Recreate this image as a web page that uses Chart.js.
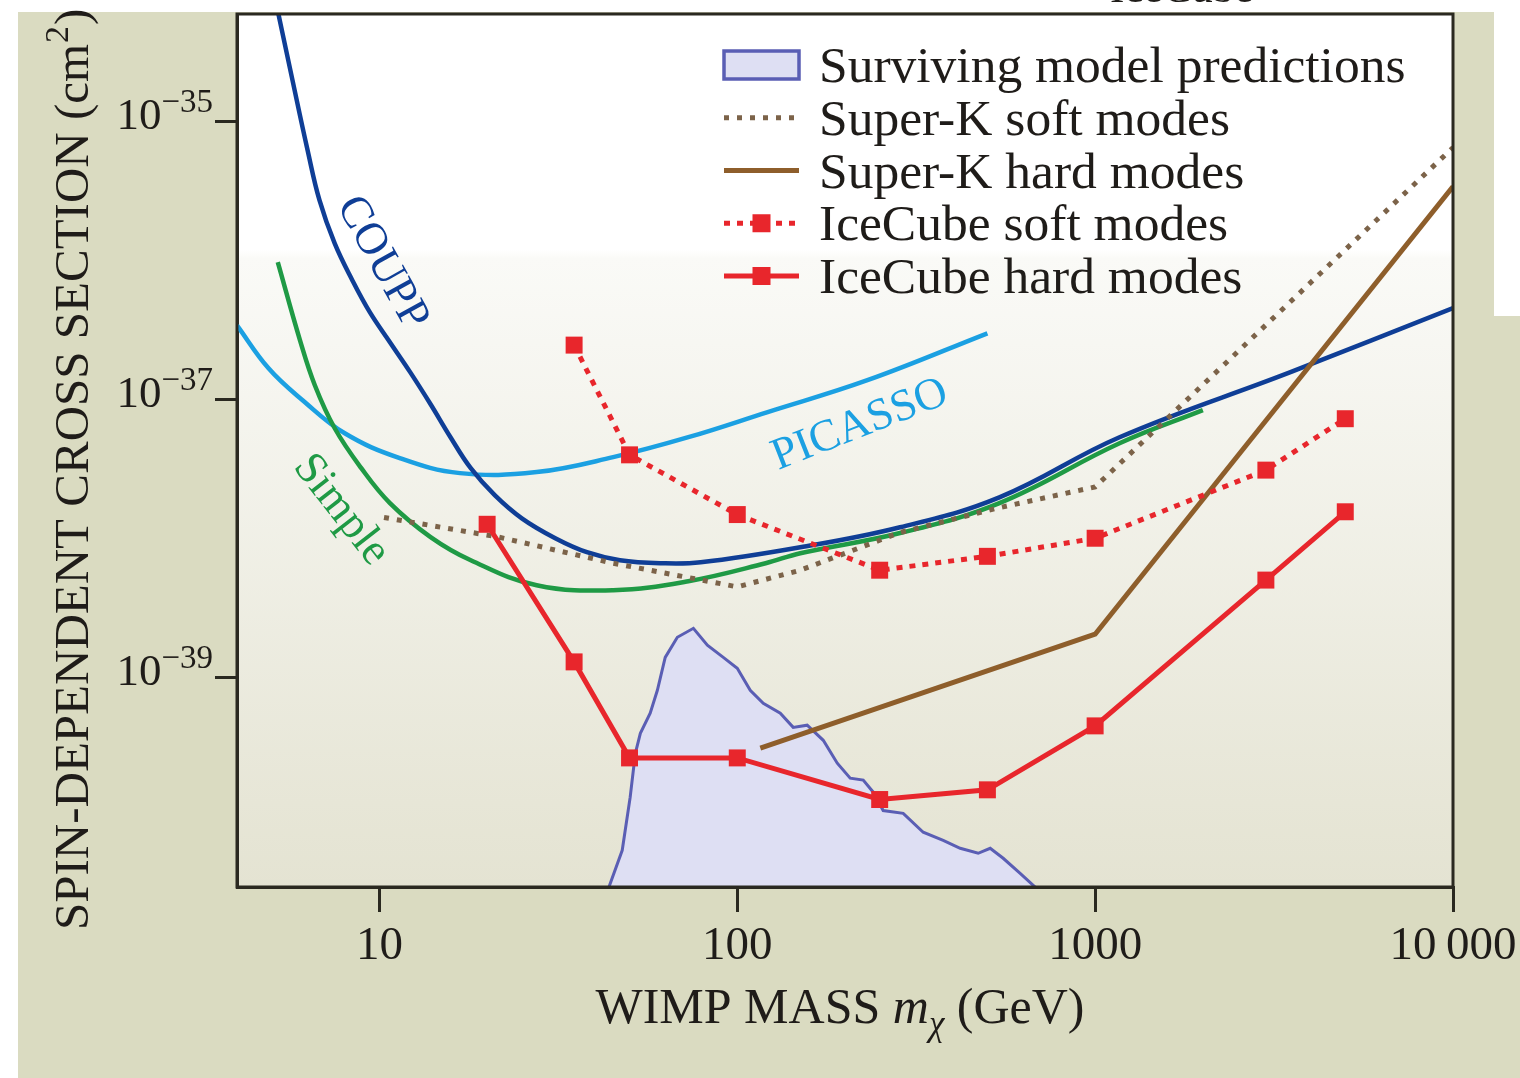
<!DOCTYPE html>
<html>
<head>
<meta charset="utf-8">
<title>Spin-dependent WIMP cross-section limits</title>
<script src="https://cdn.jsdelivr.net/npm/chart.js@4.4.1/dist/chart.umd.min.js"></script>
<style>
  html, body { margin: 0; padding: 0; background: #fff; }
  #wrap { width: 1520px; height: 1078px; }
</style>
</head>
<body>
<div id="wrap"><canvas id="limitChart" width="1520" height="1078"></canvas></div>
<script>
// WIMP mass (GeV) and spin-dependent cross section (cm^2) for each curve
const couppMass = [5.0, 5.7, 6.3, 6.8, 7.5, 8.4, 9.4, 10.7, 12.2, 13.9, 15.8, 18, 21, 25, 31, 38, 47, 61, 79, 150, 285, 540, 1170, 3500, 10000];
const couppSigma = [1.0e-34, 2.04e-35, 6.18e-36, 2.70e-36, 1.32e-36, 7.18e-37, 4.23e-37, 2.57e-37, 1.56e-37, 9.2e-38, 5.33e-38, 3.19e-38, 2.04e-38, 1.39e-38, 1.0e-38, 7.93e-39, 6.95e-39, 6.61e-39, 6.71e-39, 8.61e-39, 1.20e-38, 1.97e-38, 5.33e-38, 1.56e-37, 4.52e-37];

const simpleMass = [5.2, 6.0, 6.6, 7.5, 8.9, 10.7, 13.9, 18, 27.5, 45, 73, 120, 150, 285, 540, 1170, 2000];
const simpleSigma = [9.68e-37, 2.65e-37, 1.26e-37, 6.18e-38, 3.19e-38, 1.79e-38, 1.02e-38, 6.95e-39, 4.59e-39, 4.23e-39, 4.91e-39, 6.61e-39, 7.80e-39, 1.09e-38, 1.79e-38, 4.82e-38, 8.34e-38];

const picassoMass = [4.0, 4.9, 6.1, 8.0, 11.4, 16.8, 27.5, 45, 73, 121, 231, 500];
const picassoSigma = [3.40e-37, 1.67e-37, 9.84e-38, 5.69e-38, 3.77e-38, 2.94e-38, 2.99e-38, 3.83e-38, 5.33e-38, 8.05e-38, 1.37e-37, 2.98e-37];

const superKSoftMass = [10.3, 21.5, 45, 100, 150, 285, 540, 1000, 10000];
const superKSoftSigma = [1.41e-38, 1.02e-38, 6.61e-39, 4.47e-39, 5.89e-39, 1.10e-38, 1.66e-38, 2.34e-38, 6.46e-36];

const superKHardMass = [116, 1000, 10000];
const superKHardSigma = [3.09e-40, 2.04e-39, 3.39e-36];

const iceCubeSoftMass = [35, 50, 100, 250, 500, 1000, 3000, 5000];
const iceCubeSoftSigma = [2.45e-37, 3.98e-38, 1.48e-38, 5.89e-39, 7.41e-39, 1.0e-38, 3.09e-38, 7.24e-38];

const iceCubeHardMass = [20, 35, 50, 100, 250, 500, 1000, 3000, 5000];
const iceCubeHardSigma = [1.26e-38, 1.29e-39, 2.63e-40, 2.63e-40, 1.32e-40, 1.55e-40, 4.47e-40, 5.0e-39, 1.55e-38];

// surviving model predictions, outline of the shaded region
const modelMass = [43.6, 47.7, 50.2, 51.9, 53.6, 57.1, 59.8, 62.9, 68.0, 75.4, 82.5, 91.4, 100, 108.7, 118.2, 131.9, 143.3, 156.8, 173.9, 190.3, 206.8, 224.9, 239.9, 255.7, 290.9, 330.8, 376.2, 419.7, 471.2, 509.0, 553.4, 617.3, 688.7];
const modelSigma = [3.0e-41, 5.69e-41, 1.37e-40, 2.84e-40, 3.95e-40, 5.51e-40, 8.06e-40, 1.39e-39, 1.94e-39, 2.25e-39, 1.70e-39, 1.39e-39, 1.16e-39, 8.06e-40, 6.50e-40, 5.51e-40, 4.36e-40, 4.52e-40, 3.52e-40, 2.41e-40, 1.88e-40, 1.82e-40, 1.49e-40, 1.10e-40, 1.05e-40, 7.68e-41, 6.72e-41, 5.89e-41, 5.42e-41, 5.89e-41, 4.99e-41, 3.89e-41, 3.0e-41];

const xTickValues = [10, 100, 1000, 10000];
const xTickLabels = ['10', '100', '1000', '10\u2009000'];
const yTickValues = [1e-35, 1e-37, 1e-39];
const yTickExponents = ['\u221235', '\u221237', '\u221239'];

const serif = "'Liberation Serif', 'Times New Roman', serif";
const ink = '#1f1c19';
const frameColor = '#2a2920';
const red = '#e8262c';

function points(mass, sigma) {
  return mass.map((m, i) => ({ x: m, y: sigma[i] }));
}

const datasets = [
  {
    label: 'IceCube hard modes', legendRow: 4, order: 1,
    data: points(iceCubeHardMass, iceCubeHardSigma),
    borderColor: red, backgroundColor: red, borderWidth: 5,
    pointStyle: 'rect', pointRadius: 12, pointBorderWidth: 0, tension: 0
  },
  {
    label: 'IceCube soft modes', legendRow: 3, order: 2,
    data: points(iceCubeSoftMass, iceCubeSoftSigma),
    borderColor: red, backgroundColor: red, borderWidth: 5, borderDash: [6, 7],
    pointStyle: 'rect', pointRadius: 12, pointBorderWidth: 0, tension: 0
  },
  {
    label: 'Super-K hard modes', legendRow: 2, order: 3,
    data: points(superKHardMass, superKHardSigma),
    borderColor: '#8e5e2b', borderWidth: 5, pointRadius: 0, tension: 0
  },
  {
    label: 'Super-K soft modes', legendRow: 1, order: 4,
    data: points(superKSoftMass, superKSoftSigma),
    borderColor: '#7c6349', borderWidth: 5, borderDash: [5, 8], pointRadius: 0, tension: 0
  },
  {
    label: 'COUPP', order: 5,
    data: points(couppMass, couppSigma),
    borderColor: '#0f3e96', borderWidth: 4.5, pointRadius: 0, tension: 0.4
  },
  {
    label: 'Simple', order: 6,
    data: points(simpleMass, simpleSigma),
    borderColor: '#1f9a45', borderWidth: 4.5, pointRadius: 0, tension: 0.4
  },
  {
    label: 'PICASSO', order: 7,
    data: points(picassoMass, picassoSigma),
    borderColor: '#1ba0e2', borderWidth: 4.5, pointRadius: 0, tension: 0.4
  },
  {
    label: 'Surviving model predictions', legendRow: 0, order: 8,
    data: points(modelMass, modelSigma),
    borderColor: '#5a5eb4', backgroundColor: '#dedff3', borderWidth: 3,
    fill: 'start', pointRadius: 0, tension: 0
  }
];

// beige page panel and the white-to-beige plot background
const panelBackground = {
  id: 'panelBackground',
  beforeDraw(chart) {
    const { ctx, chartArea: a, width, height } = chart;
    ctx.save();
    ctx.fillStyle = '#ffffff';
    ctx.fillRect(0, 0, width, height);
    ctx.fillStyle = '#dadbc1';
    ctx.beginPath();
    ctx.moveTo(18, 12);
    ctx.lineTo(1494, 12);
    ctx.lineTo(1494, 316);
    ctx.lineTo(width, 316);
    ctx.lineTo(width, height);
    ctx.lineTo(18, height);
    ctx.closePath();
    ctx.fill();
    const g = ctx.createLinearGradient(0, a.top, 0, a.bottom);
    g.addColorStop(0, '#ffffff');
    g.addColorStop(0.27, '#ffffff');
    g.addColorStop(0.28, '#fafaf7');
    g.addColorStop(1, '#e4e3d2');
    ctx.fillStyle = g;
    ctx.fillRect(a.left, a.top, a.right - a.left, a.bottom - a.top);
    ctx.restore();
  }
};

function drawRotated(ctx, text, cx, cy, deg, color) {
  ctx.save();
  ctx.translate(cx, cy);
  ctx.rotate(deg * Math.PI / 180);
  ctx.fillStyle = color;
  ctx.textAlign = 'center';
  ctx.textBaseline = 'middle';
  ctx.fillText(text, 0, 0);
  ctx.restore();
}

// frame, axis texts with super/subscripts, curve names and the legend
const annotations = {
  id: 'annotations',
  afterDraw(chart) {
    const { ctx, chartArea: a } = chart;
    const yScale = chart.scales.y;
    ctx.save();

    ctx.strokeStyle = frameColor;
    ctx.lineWidth = 3;
    ctx.strokeRect(a.left, a.top, a.right - a.left, a.bottom - a.top);

    // y tick labels 10^-n
    ctx.fillStyle = ink;
    ctx.textBaseline = 'alphabetic';
    ctx.textAlign = 'left';
    yTickValues.forEach((v, i) => {
      const py = yScale.getPixelForValue(v);
      ctx.font = `33px ${serif}`;
      const supW = ctx.measureText(yTickExponents[i]).width;
      ctx.font = `45px ${serif}`;
      const baseW = ctx.measureText('10').width;
      const right = 213;
      ctx.fillText('10', right - supW - baseW, py + 8);
      ctx.font = `33px ${serif}`;
      ctx.fillText(yTickExponents[i], right - supW, py - 9);
    });

    // x axis title: WIMP MASS m_chi (GeV)
    const parts = [
      { t: 'WIMP MASS ', f: `50px ${serif}`, dy: 0 },
      { t: 'm', f: `italic 50px ${serif}`, dy: 0 },
      { t: '\u03C7', f: `italic 35px ${serif}`, dy: 12 },
      { t: ' (GeV)', f: `50px ${serif}`, dy: 0 }
    ];
    let total = 0;
    parts.forEach(p => { ctx.font = p.f; p.w = ctx.measureText(p.t).width; total += p.w; });
    let x = 840 - total / 2;
    parts.forEach(p => { ctx.font = p.f; ctx.fillText(p.t, x, 1023 + p.dy); x += p.w; });

    // y axis title, reading bottom to top
    ctx.save();
    ctx.translate(88, 930);
    ctx.rotate(-Math.PI / 2);
    ctx.font = `49px ${serif}`;
    const main = 'SPIN-DEPENDENT CROSS SECTION (cm';
    ctx.fillText(main, 0, 0);
    let tx = ctx.measureText(main).width;
    ctx.font = `34px ${serif}`;
    ctx.fillText('2', tx + 1, -20);
    tx += ctx.measureText('2').width + 2;
    ctx.font = `49px ${serif}`;
    ctx.fillText(')', tx, 0);
    ctx.restore();

    // caption fragment cut by the top edge
    ctx.font = `43px ${serif}`;
    ctx.fillText('IceCube', 1110, 2);

    // curve names
    ctx.font = `45px ${serif}`;
    drawRotated(ctx, 'COUPP', 382, 263, 61, '#0f3e96');
    drawRotated(ctx, 'Simple', 341, 510, 52, '#1f9a45');
    drawRotated(ctx, 'PICASSO', 860, 425, -21.5, '#1ba0e2');

    // legend
    const rowBase = 82, rowStep = 52.75, sx0 = 724, sx1 = 799, textX = 819;
    chart.data.datasets
      .filter(ds => ds.legendRow !== undefined)
      .sort((p, q) => p.legendRow - q.legendRow)
      .forEach(ds => {
        const base = rowBase + ds.legendRow * rowStep;
        const cy = base - 17;
        if (ds.fill) {
          ctx.fillStyle = ds.backgroundColor;
          ctx.fillRect(sx0, cy - 14, sx1 - sx0, 28);
          ctx.strokeStyle = ds.borderColor;
          ctx.lineWidth = 3.5;
          ctx.strokeRect(sx0, cy - 14, sx1 - sx0, 28);
        } else {
          ctx.save();
          ctx.strokeStyle = ds.borderColor;
          ctx.lineWidth = ds.borderWidth;
          ctx.setLineDash(ds.borderDash || []);
          ctx.beginPath();
          ctx.moveTo(sx0, cy);
          ctx.lineTo(sx1, cy);
          ctx.stroke();
          ctx.restore();
          if (ds.pointRadius > 0) {
            ctx.fillStyle = ds.backgroundColor;
            ctx.fillRect((sx0 + sx1) / 2 - 9, cy - 9, 18, 18);
          }
        }
        ctx.fillStyle = ink;
        ctx.font = `51.5px ${serif}`;
        ctx.fillText(ds.label, textX, base);
      });

    ctx.restore();
  }
};

const ctx = document.getElementById('limitChart').getContext('2d');
new Chart(ctx, {
  type: 'line',
  data: { datasets },
  options: {
    responsive: false,
    animation: false,
    devicePixelRatio: 1,
    events: [],
    layout: { padding: { top: 14, right: 67, bottom: 0, left: 0 } },
    plugins: {
      legend: { display: false },
      tooltip: { enabled: false }
    },
    scales: {
      x: {
        type: 'logarithmic',
        min: 4,
        max: 10000,
        afterBuildTicks: s => { s.ticks = xTickValues.map(v => ({ value: v })); },
        afterFit: s => { s.height = 191; s.paddingLeft = 0; s.paddingRight = 0; },
        grid: { drawOnChartArea: false, drawTicks: true, tickLength: 25, color: frameColor, lineWidth: 3 },
        border: { display: true, color: frameColor, width: 3 },
        ticks: {
          autoSkip: false,
          maxRotation: 0,
          padding: 6,
          color: ink,
          font: { family: serif, size: 47 },
          callback: (v, i) => xTickLabels[i]
        }
      },
      y: {
        type: 'logarithmic',
        min: 3.1e-41,
        max: 5.9e-35,
        afterBuildTicks: s => { s.ticks = yTickValues.map(v => ({ value: v })); },
        afterFit: s => { s.width = 237; s.paddingTop = 0; s.paddingBottom = 0; },
        grid: { drawOnChartArea: false, drawTicks: true, tickLength: 22, color: frameColor, lineWidth: 3 },
        border: { display: true, color: frameColor, width: 3 },
        ticks: { display: false }
      }
    }
  },
  plugins: [panelBackground, annotations]
});
</script>
</body>
</html>
